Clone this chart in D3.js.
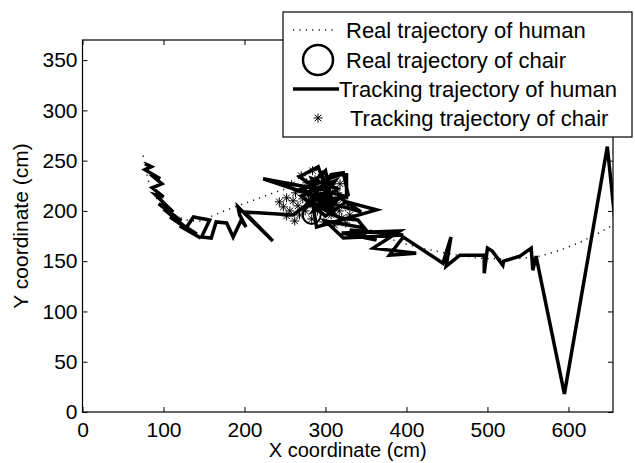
<!DOCTYPE html>
<html>
<head>
<meta charset="utf-8">
<script src="https://cdn.jsdelivr.net/npm/d3@7"></script>
<style>
  body { margin: 0; background: #fff; }
  text { font-family: "Liberation Sans", Arial, sans-serif; fill: #000; }
</style>
</head>
<body>
<div id="chart"></div>
<script>
// tick values
const xTicks = [0, 100, 200, 300, 400, 500, 600];
const yTicks = [0, 50, 100, 150, 200, 250, 300, 350];

// real trajectory of human (dotted)
const realHuman = [
  [75, 255], [77, 246], [79, 238], [82, 228], [87, 218], [95, 208], [105, 200],
  [118, 194], [132, 190], [145, 190], [157, 194], [175, 200], [195, 206],
  [219, 213], [243, 220], [265, 225], [285, 224], [300, 218], [315, 208],
  [330, 196], [348, 184], [370, 175], [395, 168], [424, 162], [455, 157],
  [490, 153], [520, 152], [545, 153], [565, 155], [590, 161], [615, 169],
  [640, 179], [655, 186]
];

// real trajectory of chair (circle)
const realChair = [[283, 196]];

// tracking trajectory of human (thick line)
const trackHuman = [
  [77, 247], [85, 244], [77, 241], [96, 232], [83, 237], [98, 227], [86, 223],
  [100, 214], [90, 216], [112, 199], [94, 207], [122, 190], [100, 202],
  [130, 182], [108, 194], [141, 177], [120, 185], [146, 173], [127, 182],
  [137, 194], [157, 191], [147, 174], [159, 173], [165, 189], [178, 188],
  [186, 174], [196, 191], [202, 184], [194, 196], [192, 204], [235, 170],
  [200, 199], [260, 196], [290, 214], [223, 232], [289, 222], [268, 234],
  [291, 244], [301, 221], [275, 205], [307, 236], [322, 238], [328, 216],
  [285, 200], [312, 230], [270, 215], [300, 195], [326, 209], [363, 201],
  [289, 184], [280, 228], [296, 236], [305, 205], [272, 222], [318, 236],
  [326, 236], [326, 214], [280, 225], [300, 240], [310, 200], [278, 210],
  [318, 213], [344, 199], [295, 210], [283, 232], [315, 222], [290, 205],
  [318, 193], [340, 191], [348, 183], [300, 190], [322, 173], [396, 176],
  [330, 181], [363, 171], [320, 178], [392, 180], [359, 163], [412, 158],
  [379, 156], [396, 174], [445, 148], [455, 174], [449, 145], [466, 156],
  [496, 156], [496, 138], [500, 163], [506, 160], [519, 146], [520, 150],
  [540, 155], [554, 163], [556, 141], [560, 155], [595, 18], [648, 264],
  [660, 170]
];

// tracking trajectory of chair (asterisks)
const trackChair = [
  [243, 209], [248, 204], [252, 213], [256, 200], [260, 210], [263, 218],
  [266, 205], [268, 196], [270, 222], [272, 212], [275, 200], [277, 228],
  [279, 215], [281, 207], [283, 192], [285, 220], [287, 231], [288, 211],
  [290, 200], [292, 224], [294, 215], [296, 207], [298, 189], [300, 218],
  [302, 230], [303, 203], [305, 212], [307, 196], [309, 224], [311, 186],
  [313, 208], [315, 218], [317, 200], [320, 193], [322, 212], [325, 188],
  [328, 205], [262, 190], [270, 235], [284, 240], [296, 236], [252, 195],
  [258, 226], [318, 227], [330, 196]
];

const legendLabels = [
  "Real trajectory of human",
  "Real trajectory of chair",
  "Tracking trajectory of human",
  "Tracking trajectory of chair"
];

const W = 635, H = 463;
const plot = {left: 82.5, right: 613, top: 40, bottom: 412};

const svg = d3.select('#chart')
      .append('svg')
      .attr('width', W)
      .attr('height', H);

const x = d3.scaleLinear().domain([0, 655]).range([plot.left, plot.right]);
const y = d3.scaleLinear().domain([0, 370]).range([plot.bottom, plot.top]);

svg.append('defs').append('clipPath')
    .attr('id', 'clip')
    .append('rect')
    .attr('x', plot.left)
    .attr('y', plot.top)
    .attr('width', plot.right - plot.left)
    .attr('height', plot.bottom - plot.top);

const g = svg.append('g').attr('clip-path', 'url(#clip)');

const line = d3.line().x(d => x(d[0])).y(d => y(d[1]));

// real human, dotted
g.append('path')
    .attr('d', line(realHuman))
    .attr('fill', 'none')
    .attr('stroke', '#111')
    .attr('stroke-width', 1.5)
    .attr('stroke-dasharray', '1.2,5.2');

// tracking human, thick
g.append('path')
    .attr('d', line(trackHuman))
    .attr('fill', 'none')
    .attr('stroke', '#000')
    .attr('stroke-width', 3.5)
    .attr('stroke-linejoin', 'miter')
    .attr('stroke-miterlimit', 4);

// real chair circle
g.selectAll('.chair')
    .data(realChair)
    .enter()
    .append('circle')
    .attr('cx', d => x(d[0]))
    .attr('cy', d => y(d[1]))
    .attr('r', 9)
    .attr('fill', 'none')
    .attr('stroke', '#000')
    .attr('stroke-width', 2);

function star(cx, cy, s) {
  const d = s * 0.72;
  return `M${cx - s},${cy}H${cx + s}M${cx},${cy - s}V${cy + s}` +
         `M${cx - d},${cy - d}L${cx + d},${cy + d}M${cx - d},${cy + d}L${cx + d},${cy - d}`;
}

g.selectAll('.star')
    .data(trackChair)
    .enter()
    .append('path')
    .attr('d', d => star(x(d[0]), y(d[1]), 4.5))
    .attr('stroke', '#000')
    .attr('stroke-width', 1)
    .attr('fill', 'none');

// axes
const ax = svg.append('g').attr('class', 'axes');

function styleAxis(sel) {
  sel.select('.domain').remove();
  sel.selectAll('line').attr('stroke', '#000').attr('stroke-width', 1);
  sel.selectAll('text')
     .style('font-size', '21px')
     .style('font-family', '"Liberation Sans", Arial, sans-serif')
     .attr('fill', '#000');
}

ax.append('g')
    .attr('transform', `translate(0,${plot.bottom})`)
    .call(d3.axisBottom(x).tickValues(xTicks).tickSizeInner(-5).tickSizeOuter(0).tickPadding(10))
    .call(styleAxis);

ax.append('g')
    .attr('transform', `translate(0,${plot.top})`)
    .call(d3.axisTop(x).tickValues(xTicks).tickSizeInner(-5).tickSizeOuter(0).tickFormat(''))
    .call(styleAxis);

ax.append('g')
    .attr('transform', `translate(${plot.left},0)`)
    .call(d3.axisLeft(y).tickValues(yTicks).tickSizeInner(-5).tickSizeOuter(0).tickPadding(5))
    .call(styleAxis);

ax.append('g')
    .attr('transform', `translate(${plot.right},0)`)
    .call(d3.axisRight(y).tickValues(yTicks).tickSizeInner(-5).tickSizeOuter(0).tickFormat(''))
    .call(styleAxis);

ax.append('rect')
    .attr('x', plot.left)
    .attr('y', plot.top)
    .attr('width', plot.right - plot.left)
    .attr('height', plot.bottom - plot.top)
    .attr('fill', 'none')
    .attr('stroke', '#000')
    .attr('stroke-width', 1.2);

// axis labels
svg.append('text')
    .attr('x', (plot.left + plot.right) / 2)
    .attr('y', 457)
    .attr('text-anchor', 'middle')
    .style('font-size', '20px')
    .text('X coordinate (cm)');

svg.append('text')
    .attr('transform', `translate(28,${(plot.top + plot.bottom) / 2}) rotate(-90)`)
    .attr('text-anchor', 'middle')
    .style('font-size', '21px')
    .text('Y coordinate (cm)');

// legend
const lg = svg.append('g');
lg.append('rect')
    .attr('x', 283).attr('y', 12)
    .attr('width', 349).attr('height', 125)
    .attr('fill', '#fff')
    .attr('stroke', '#000')
    .attr('stroke-width', 1.2);

const rowY = [30, 60, 89, 118];
const textX = [346, 346, 339, 350];

lg.append('line')
    .attr('x1', 293).attr('x2', 337)
    .attr('y1', rowY[0]).attr('y2', rowY[0])
    .attr('stroke', '#111')
    .attr('stroke-width', 1.5)
    .attr('stroke-dasharray', '1.2,5.2');

lg.append('circle')
    .attr('cx', 318).attr('cy', rowY[1])
    .attr('r', 15)
    .attr('fill', 'none')
    .attr('stroke', '#000')
    .attr('stroke-width', 2.5);

lg.append('line')
    .attr('x1', 293).attr('x2', 339)
    .attr('y1', rowY[2]).attr('y2', rowY[2])
    .attr('stroke', '#000')
    .attr('stroke-width', 3.5);

lg.append('path')
    .attr('d', star(318, rowY[3], 4.5))
    .attr('stroke', '#000')
    .attr('stroke-width', 1)
    .attr('fill', 'none');

lg.selectAll('.ltext')
    .data(legendLabels)
    .enter()
    .append('text')
    .attr('x', (d, i) => textX[i])
    .attr('y', (d, i) => rowY[i] + 8)
    .style('font-size', '22px')
    .text(d => d);
</script>
</body>
</html>
